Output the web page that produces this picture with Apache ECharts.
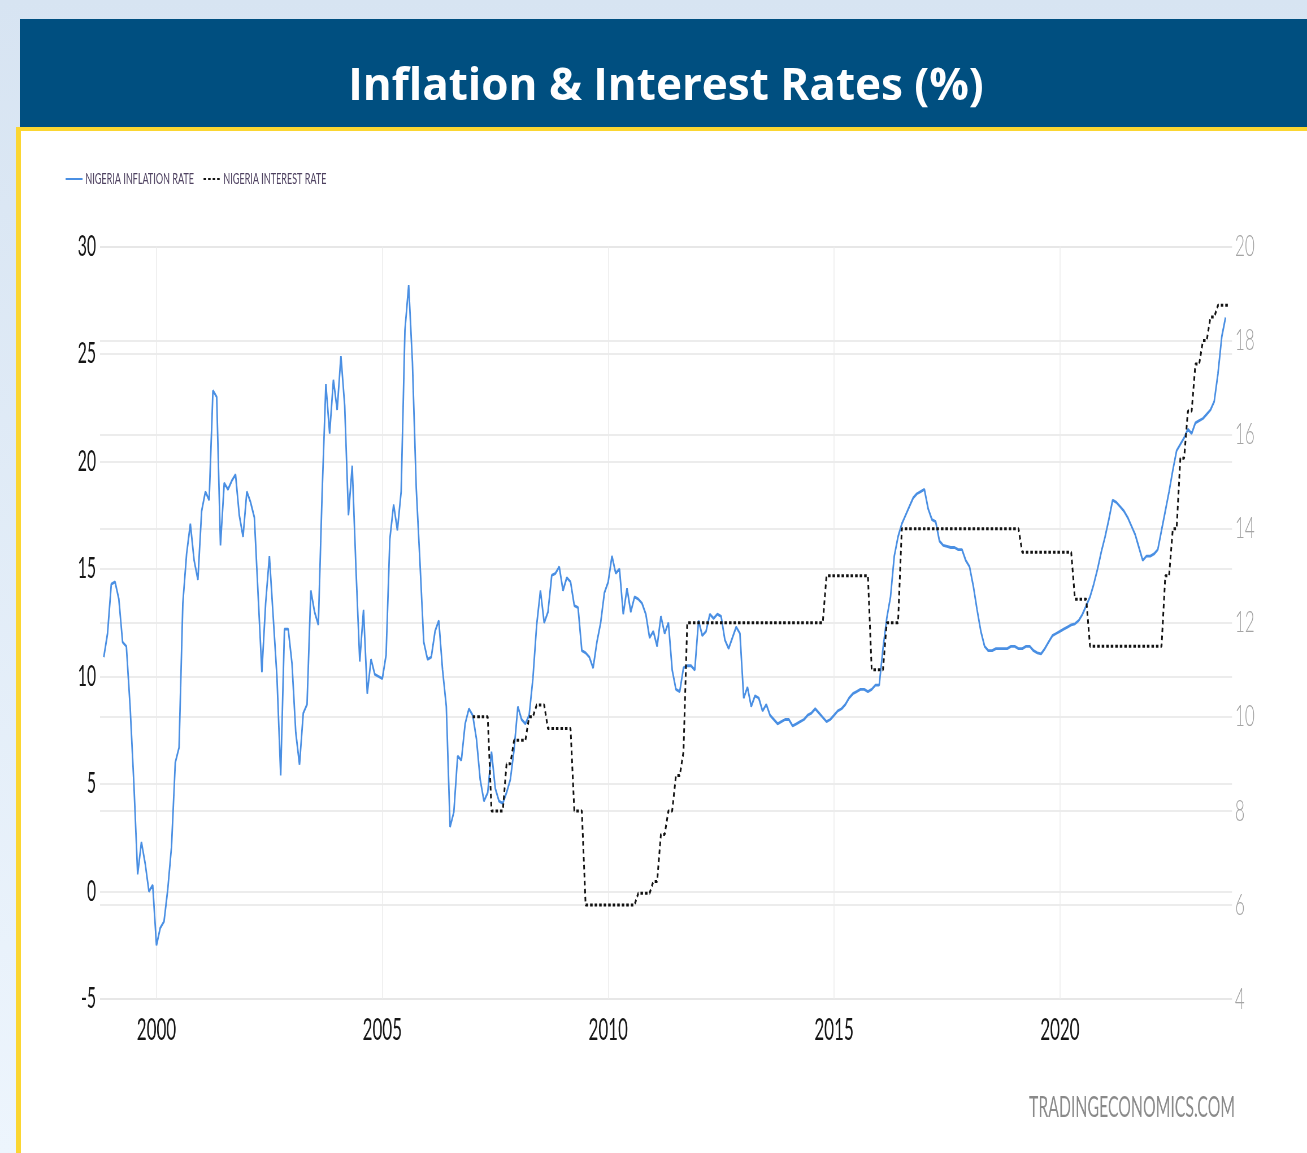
<!DOCTYPE html>
<html>
<head>
<meta charset="utf-8">
<title>Inflation &amp; Interest Rates (%)</title>
<script src="https://cdn.jsdelivr.net/npm/echarts@6/dist/echarts.min.js"></script>
<style>
  html, body { margin: 0; padding: 0; width: 1307px; height: 1153px; overflow: hidden; }
  #frame { position: absolute; left: 0; top: 0; width: 1307px; height: 1153px; }
  #plot { position: absolute; left: 0; top: 0; height: 1153px; transform-origin: 0 0; }
</style>
</head>
<body>
<div id="frame"></div>
<div id="plot"></div>
<script>
// ---- text ----
const TITLE = 'Inflation & Interest Rates (%)';
const SERIES_NAMES = ['NIGERIA INFLATION RATE', 'NIGERIA INTEREST RATE'];
const SOURCE = 'TRADINGECONOMICS.COM';

// ---- axes ----
const YEAR_TICKS = [2000, 2005, 2010, 2015, 2020];
const X_RANGE = [1998.75, 2023.81];
const LEFT_RANGE = [-5, 30];   // inflation, %
const LEFT_STEP = 5;
const RIGHT_RANGE = [4, 20];   // interest rate, %
const RIGHT_STEP = 2;

// ---- monthly inflation rate, Nov 1998 .. Sep 2023 ----
const INFLATION_START = [1998, 11];
const inflation = [
  10.9, 12.0,
  14.3, 14.4, 13.6, 11.6, 11.4, 8.6, 5.0, 0.8, 2.3, 1.3, 0.0, 0.3,
  -2.5, -1.7, -1.4, 0.1, 2.1, 6.0, 6.7, 13.4, 15.7, 17.1, 15.4, 14.5,
  17.7, 18.6, 18.2, 23.3, 23.0, 16.1, 19.0, 18.7, 19.1, 19.4, 17.5, 16.5,
  18.6, 18.1, 17.4, 13.8, 10.2, 13.4, 15.6, 12.8, 10.0, 5.4, 12.2, 12.2,
  10.6, 7.4, 5.9, 8.3, 8.7, 14.0, 13.0, 12.4, 18.5, 23.6, 21.3, 23.8,
  22.4, 24.9, 22.6, 17.5, 19.8, 15.0, 10.7, 13.1, 9.2, 10.8, 10.1, 10.0,
  9.9, 11.0, 16.4, 18.0, 16.8, 18.6, 26.1, 28.2, 24.6, 18.8, 15.3, 11.6,
  10.8, 10.9, 12.1, 12.6, 10.3, 8.6, 3.0, 3.7, 6.3, 6.1, 7.8, 8.5,
  8.2, 7.1, 5.2, 4.2, 4.6, 6.5, 4.8, 4.2, 4.1, 4.6, 5.2, 6.6,
  8.6, 8.0, 7.8, 8.2, 9.9, 12.4, 14.0, 12.5, 13.0, 14.7, 14.8, 15.1,
  14.0, 14.6, 14.4, 13.3, 13.2, 11.2, 11.1, 10.9, 10.4, 11.6, 12.5, 13.9,
  14.4, 15.6, 14.8, 15.0, 12.9, 14.1, 13.0, 13.7, 13.6, 13.4, 12.9, 11.8,
  12.1, 11.4, 12.8, 12.0, 12.5, 10.3, 9.4, 9.3, 10.4, 10.5, 10.5, 10.3,
  12.6, 11.9, 12.1, 12.9, 12.7, 12.9, 12.8, 11.7, 11.3, 11.8, 12.3, 12.0,
  9.0, 9.5, 8.6, 9.1, 9.0, 8.4, 8.7, 8.2, 8.0, 7.8, 7.9, 8.0,
  8.0, 7.7, 7.8, 7.9, 8.0, 8.2, 8.3, 8.5, 8.3, 8.1, 7.9, 8.0,
  8.2, 8.4, 8.5, 8.7, 9.0, 9.2, 9.3, 9.4, 9.4, 9.3, 9.4, 9.6,
  9.6, 11.3, 12.7, 13.7, 15.6, 16.5, 17.1, 17.5, 17.9, 18.3, 18.5, 18.6,
  18.7, 17.8, 17.3, 17.2, 16.3, 16.1, 16.05, 16.0, 16.0, 15.9, 15.9, 15.4,
  15.1, 14.2, 13.1, 12.1, 11.4, 11.2, 11.2, 11.3, 11.3, 11.3, 11.3, 11.4,
  11.4, 11.3, 11.3, 11.4, 11.4, 11.2, 11.1, 11.05, 11.3, 11.6, 11.9, 12.0,
  12.1, 12.2, 12.3, 12.4, 12.45, 12.6, 12.9, 13.3, 13.7, 14.3, 15.0, 15.8,
  16.5, 17.3, 18.2, 18.1, 17.9, 17.7, 17.4, 17.0, 16.6, 16.0, 15.4, 15.6,
  15.6, 15.7, 15.9, 16.8, 17.7, 18.6, 19.6, 20.5, 20.8, 21.1, 21.5, 21.3,
  21.8, 21.9, 22.0, 22.2, 22.4, 22.8, 24.1, 25.8, 26.7
];

// ---- monthly policy interest rate, Jan 2007 .. Oct 2023 ----
const RATE_START = [2007, 1];
const interestRate = [
  10, 10, 10, 10, 10, 8, 8, 8, 8, 9, 9, 9.5,
  9.5, 9.5, 9.5, 10, 10, 10.25, 10.25, 10.25, 9.75, 9.75, 9.75, 9.75,
  9.75, 9.75, 9.75, 8, 8, 8, 6, 6, 6, 6, 6, 6,
  6, 6, 6, 6, 6, 6, 6, 6, 6.25, 6.25, 6.25, 6.25,
  6.5, 6.5, 7.5, 7.5, 8, 8, 8.75, 8.75, 9.25, 12, 12, 12,
  12, 12, 12, 12, 12, 12, 12, 12, 12, 12, 12, 12,
  12, 12, 12, 12, 12, 12, 12, 12, 12, 12, 12, 12,
  12, 12, 12, 12, 12, 12, 12, 12, 12, 12, 13, 13,
  13, 13, 13, 13, 13, 13, 13, 13, 13, 13, 11, 11,
  11, 11, 12, 12, 12, 12, 14, 14, 14, 14, 14, 14,
  14, 14, 14, 14, 14, 14, 14, 14, 14, 14, 14, 14,
  14, 14, 14, 14, 14, 14, 14, 14, 14, 14, 14, 14,
  14, 14, 13.5, 13.5, 13.5, 13.5, 13.5, 13.5, 13.5, 13.5, 13.5, 13.5,
  13.5, 13.5, 13.5, 13.5, 12.5, 12.5, 12.5, 12.5, 11.5, 11.5, 11.5, 11.5,
  11.5, 11.5, 11.5, 11.5, 11.5, 11.5, 11.5, 11.5, 11.5, 11.5, 11.5, 11.5,
  11.5, 11.5, 11.5, 11.5, 13, 13, 14, 14, 15.5, 15.5, 16.5, 16.5,
  17.5, 17.5, 18, 18, 18.5, 18.5, 18.75, 18.75, 18.75, 18.75
];

// pair each monthly value with its date as a decimal year
function monthly(start, values) {
  return values.map((v, i) => [start[0] + (start[1] - 1 + i) / 12, v]);
}

// ---- page frame: background, banner, yellow rule ----
const frame = echarts.init(document.getElementById('frame'));
frame.setOption({
  animation: false,
  backgroundColor: new echarts.graphic.LinearGradient(0, 0, 0, 1, [
    { offset: 0, color: '#d7e4f2' },
    { offset: 1, color: '#edf5fd' }
  ]),
  graphic: [
    { type: 'rect', shape: { x: 20, y: 19, width: 1287, height: 109 }, style: { fill: '#004f80' } },
    { type: 'rect', shape: { x: 16, y: 127, width: 1291, height: 1026 }, style: { fill: '#fbd632' } },
    { type: 'rect', shape: { x: 21, y: 131, width: 1286, height: 1022 }, style: { fill: '#ffffff' } },
    {
      type: 'text', x: 666, y: 87, z: 10,
      style: {
        text: TITLE, fill: '#ffffff', textAlign: 'center', textVerticalAlign: 'middle',
        font: 'bold 44px "Open Sans", Lato, sans-serif'
      }
    }
  ]
});

// ---- chart: drawn wide, then squeezed horizontally ----
const SQUEEZE = 0.565;
const W = Math.round(1307 / SQUEEZE);
const plotEl = document.getElementById('plot');
plotEl.style.width = W + 'px';
plotEl.style.transform = 'scaleX(' + (1307 / W) + ')';
const sx = v => v * W / 1307;   // page x -> chart x

const FONT = 'Lato, "Liberation Sans", sans-serif';
const chart = echarts.init(plotEl);
chart.setOption({
  animation: false,
  backgroundColor: 'transparent',
  textStyle: { fontFamily: FONT },
  legend: {
    left: sx(65), top: 171, padding: 0,
    itemWidth: sx(17), itemHeight: 14, itemGap: sx(9),
    itemStyle: { opacity: 0 },
    textStyle: { fontSize: 16, color: '#4e4160', fontFamily: FONT },
    data: SERIES_NAMES
  },
  grid: { left: sx(100), right: W - sx(1232), top: 246.5, bottom: 1153 - 999 },
  xAxis: {
    type: 'value', min: X_RANGE[0], max: X_RANGE[1],
    axisLine: { show: false },
    axisTick: { show: false, customValues: YEAR_TICKS },
    axisLabel: {
      customValues: YEAR_TICKS, fontSize: 30, color: '#161616', margin: 16, fontFamily: FONT,
      formatter: v => String(v)
    },
    splitLine: { show: true, lineStyle: { color: '#ececec', width: 1.6 } }
  },
  yAxis: [
    {
      type: 'value', position: 'left', min: LEFT_RANGE[0], max: LEFT_RANGE[1], interval: LEFT_STEP,
      axisLine: { show: false }, axisTick: { show: false },
      axisLabel: { fontSize: 28, color: '#161616', margin: sx(4), fontFamily: FONT },
      splitLine: { lineStyle: { color: '#e6e6e6', width: 1.5 } }
    },
    {
      type: 'value', position: 'right', min: RIGHT_RANGE[0], max: RIGHT_RANGE[1], interval: RIGHT_STEP,
      axisLine: { show: false }, axisTick: { show: false },
      axisLabel: { fontSize: 30, color: '#a4a4a4', margin: sx(3), fontWeight: 300, fontFamily: FONT },
      splitLine: { lineStyle: { color: '#e6e6e6', width: 1.5 } }
    }
  ],
  series: [
    {
      name: SERIES_NAMES[0], type: 'line', yAxisIndex: 0,
      data: monthly(INFLATION_START, inflation),
      symbol: 'none', z: 3,
      lineStyle: { color: '#4a8fe3', width: 2.8 },
      itemStyle: { color: '#4a8fe3' }
    },
    {
      name: SERIES_NAMES[1], type: 'line', yAxisIndex: 1,
      data: monthly(RATE_START, interestRate),
      symbol: 'none', z: 4,
      lineStyle: { color: '#111111', width: 3, type: [4.5, 3.5] },
      itemStyle: { color: '#111111' }
    }
  ],
  graphic: [
    {
      type: 'text', x: sx(1235), y: 1108,
      style: {
        text: SOURCE, fill: '#8a8a8a', textAlign: 'right', textVerticalAlign: 'middle',
        font: '28px ' + FONT
      }
    }
  ]
});
</script>
</body>
</html>
